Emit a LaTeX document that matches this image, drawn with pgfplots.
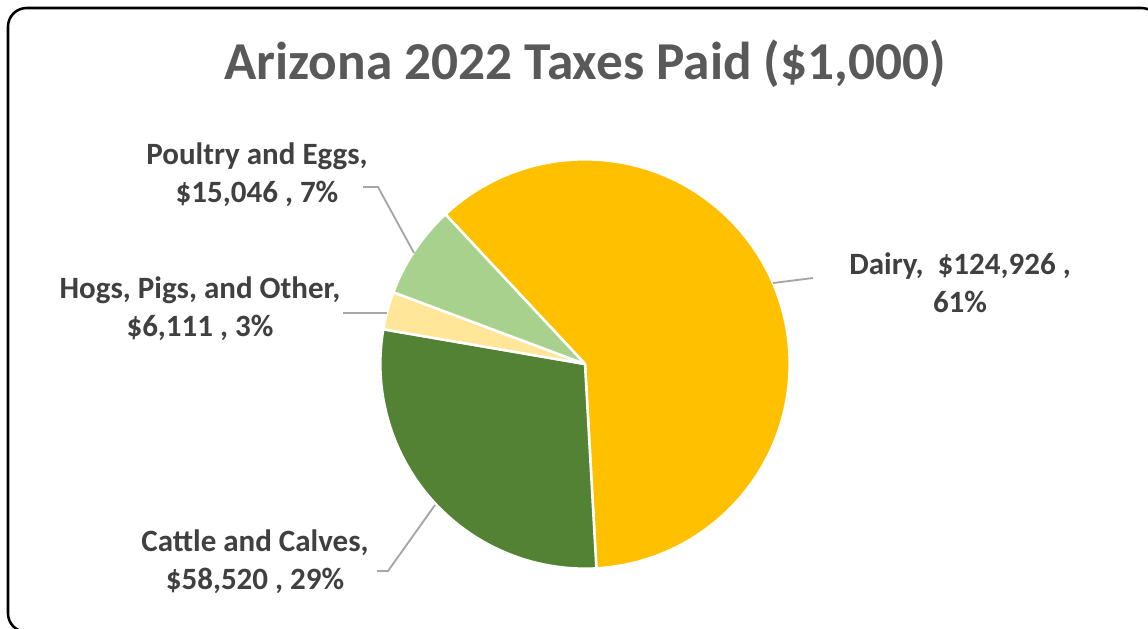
\documentclass[border=0pt]{standalone}
\usepackage{pgfplots}
\usepackage{pgfplotstable}
\pgfplotsset{compat=1.18}
\usepackage{fontspec}
\setmainfont{Carlito}
\definecolor{dairy}{HTML}{FFC000}
\definecolor{cattle}{HTML}{548235}
\definecolor{hogs}{HTML}{FFE699}
\definecolor{poultry}{HTML}{A9D18E}
\definecolor{titlec}{HTML}{595959}
\definecolor{lblc}{HTML}{404040}
\definecolor{leader}{HTML}{A6A6A6}

\pgfplotstableread{
slice value
1 124926
2 58520
3 6111
4 15046
}\piedata

\begin{document}
\pgfplotstablegetelem{0}{value}\of\piedata\edef\vA{\pgfplotsretval}%
\pgfplotstablegetelem{1}{value}\of\piedata\edef\vB{\pgfplotsretval}%
\pgfplotstablegetelem{2}{value}\of\piedata\edef\vC{\pgfplotsretval}%
\pgfplotstablegetelem{3}{value}\of\piedata\edef\vD{\pgfplotsretval}%
\edef\tot{\fpeval{\vA+\vB+\vC+\vD}}%
\edef\aA{133}%
\edef\aB{\fpeval{round(\aA-360*\vA/\tot,3)}}%
\edef\aC{\fpeval{round(\aB-360*\vB/\tot,3)}}%
\edef\aD{\fpeval{round(\aC-360*\vC/\tot,3)}}%
\edef\aE{\fpeval{round(\aD-360*\vD/\tot,3)}}%
\def\R{153.5pt}%
\begin{tikzpicture}
\useasboundingbox (0,0) rectangle (861pt,471pt);
\clip (0,0) rectangle (861pt,471pt);
\begin{axis}[at={(0,0)}, anchor=south west, scale only axis,
  width=861pt, height=471pt, xmin=0, xmax=1148, ymin=0, ymax=628,
  y dir=reverse, hide axis, clip=false]
% border
\draw[black, line width=1.9pt, rounded corners=14pt] (axis cs:8,8) rectangle (axis cs:1160,632);
% slices
\filldraw[fill=dairy, draw=white, line width=1.9pt, line join=round] (axis cs:585,364) -- ++(\aA:\R) arc[start angle=\aA, end angle=\aB, radius=\R] -- cycle;
\filldraw[fill=cattle, draw=white, line width=1.9pt, line join=round] (axis cs:585,364) -- ++(\aB:\R) arc[start angle=\aB, end angle=\aC, radius=\R] -- cycle;
\filldraw[fill=hogs, draw=white, line width=1.9pt, line join=round] (axis cs:585,364) -- ++(\aC:\R) arc[start angle=\aC, end angle=\aD, radius=\R] -- cycle;
\filldraw[fill=poultry, draw=white, line width=1.9pt, line join=round] (axis cs:585,364) -- ++(\aD:\R) arc[start angle=\aD, end angle=\aE, radius=\R] -- cycle;
% leader lines
\draw[leader, line width=1.4pt] (axis cs:363,187) -- (axis cs:378,187) -- (axis cs:414,253);
\draw[leader, line width=1.4pt] (axis cs:343,313) -- (axis cs:387,313);
\draw[leader, line width=1.4pt] (axis cs:773,283) -- (axis cs:813,278);
\draw[leader, line width=1.4pt] (axis cs:377,571) -- (axis cs:388,571) -- (axis cs:435,505);
% title
\node[anchor=base, text=titlec, font=\fontsize{40pt}{48pt}\selectfont\bfseries] at (axis cs:585,79) {Arizona 2022 Taxes Paid (\$1,000)};
% labels
\tikzset{lbl/.style={align=center, text=lblc, font=\fontsize{23.25pt}{28.5pt}\selectfont\bfseries, inner sep=0pt}}
\node[lbl] at (axis cs:257,175) {Poultry and Eggs,\\\$15,046 , 7\%};
\node[lbl] at (axis cs:200,309) {Hogs, Pigs, and Other,\\\$6,111 , 3\%};
\node[lbl] at (axis cs:960,283) {Dairy,\ \ \$124,926 ,\\61\%};
\node[lbl] at (axis cs:255,562) {Cattle and Calves,\\\$58,520 , 29\%};
\end{axis}
\end{tikzpicture}
\end{document}
